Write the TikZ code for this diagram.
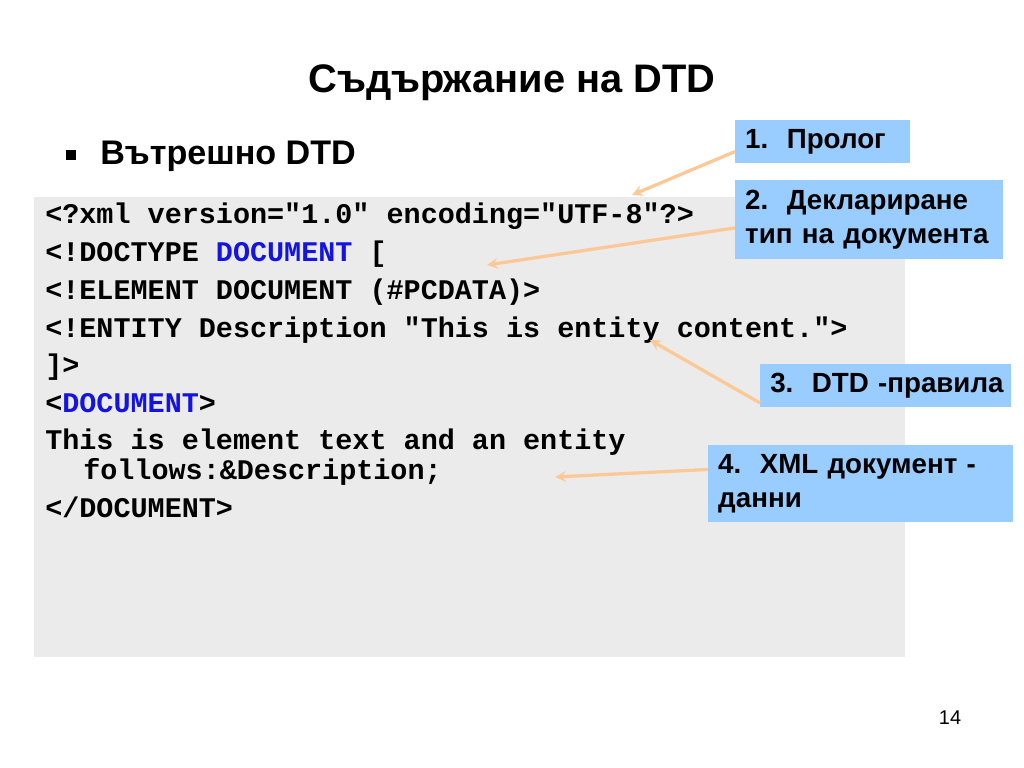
\documentclass[tikz,border=0pt]{standalone}
\usepackage{fontspec}
\setmainfont{Liberation Sans}
\newfontfamily\codefont{Liberation Mono}
\usetikzlibrary{arrows}
\definecolor{codegray}{RGB}{235,235,235}
\definecolor{notefill}{RGB}{153,204,255}
\definecolor{notearrow}{RGB}{252,200,150}
\definecolor{codeblue}{RGB}{20,20,225}

\begin{document}
\begin{tikzpicture}[x=0.703125pt,y=-0.703125pt]
\tikzset{code/.style={anchor=base west,inner sep=0pt,font=\codefont\bfseries\fontsize{20}{24}\selectfont}}
\tikzset{note/.style={fill=notefill,anchor=north west,align=left,inner xsep=7pt,inner ysep=0pt,font=\bfseries\fontsize{19.5}{24}\selectfont}}
\tikzset{pointer/.style={draw=notearrow,line width=2.3pt,-stealth}}

\useasboundingbox (0,0) rectangle (1024,768);
\fill[codegray] (34,197) rectangle (905,657);

\node[anchor=base,font=\bfseries\fontsize{28}{34}\selectfont] (title) at (512,93) {Съдържание на DTD};
\node[fill,minimum size=7pt,inner sep=0pt] (dot) at (71,155) {};
\node[anchor=base west,inner sep=0pt,font=\bfseries\fontsize{24}{29}\selectfont] (sub) at (100,165) {Вътрешно DTD};

\node[code] (l1) at (45,224) {<?xml version="1.0" encoding="UTF-8"?>};
\node[code] (l2) at (45,262) {<!DOCTYPE \textcolor{codeblue}{DOCUMENT} [};
\node[code] (l3) at (45,299) {<!ELEMENT DOCUMENT (\#PCDATA)>};
\node[code] (l4) at (45,337) {<!ENTITY Description "This is entity content.">};
\node[code] (l5) at (45,374) {]>};
\node[code] (l6) at (45,412) {<\textcolor{codeblue}{DOCUMENT}>};
\node[code] (l7) at (45,449) {This is element text and an entity};
\node[code] (l7b) at (83,479) {follows:\&Description;};
\node[code] (l8) at (45,517) {</DOCUMENT>};

\node[note,text width=109pt,minimum height=30pt] (p1) at (735,120) {\mbox{1.~~Пролог}};
\node[note,text width=174pt,minimum height=55pt] (p2) at (735,180) {\mbox{2.~~Деклариране}\\\mbox{тип на документа}};
\node[note,text width=162pt,minimum height=30pt] (p3) at (760,364) {\mbox{3.~~DTD -правила}};
\node[note,text width=200pt,minimum height=54pt] (p4) at (708,445) {\mbox{4.~~XML документ -}\\\mbox{данни}};

\coordinate (t1) at (632,195);
\coordinate (t2) at (487,265);
\coordinate (t3) at (650,340);
\coordinate (t4) at (555,477);

\draw[pointer] ([yshift=-7pt]p1.west) -- (t1);
\draw[pointer] ([yshift=-6pt]p2.west) -- (t2);
\draw[pointer] ([yshift=3pt]p3.south west) -- (t3);
\draw[pointer] ([yshift=10pt]p4.west) -- (t4);

\node[font=\fontsize{14}{17}\selectfont] (page) at (950,718) {14};
\end{tikzpicture}
\end{document}
